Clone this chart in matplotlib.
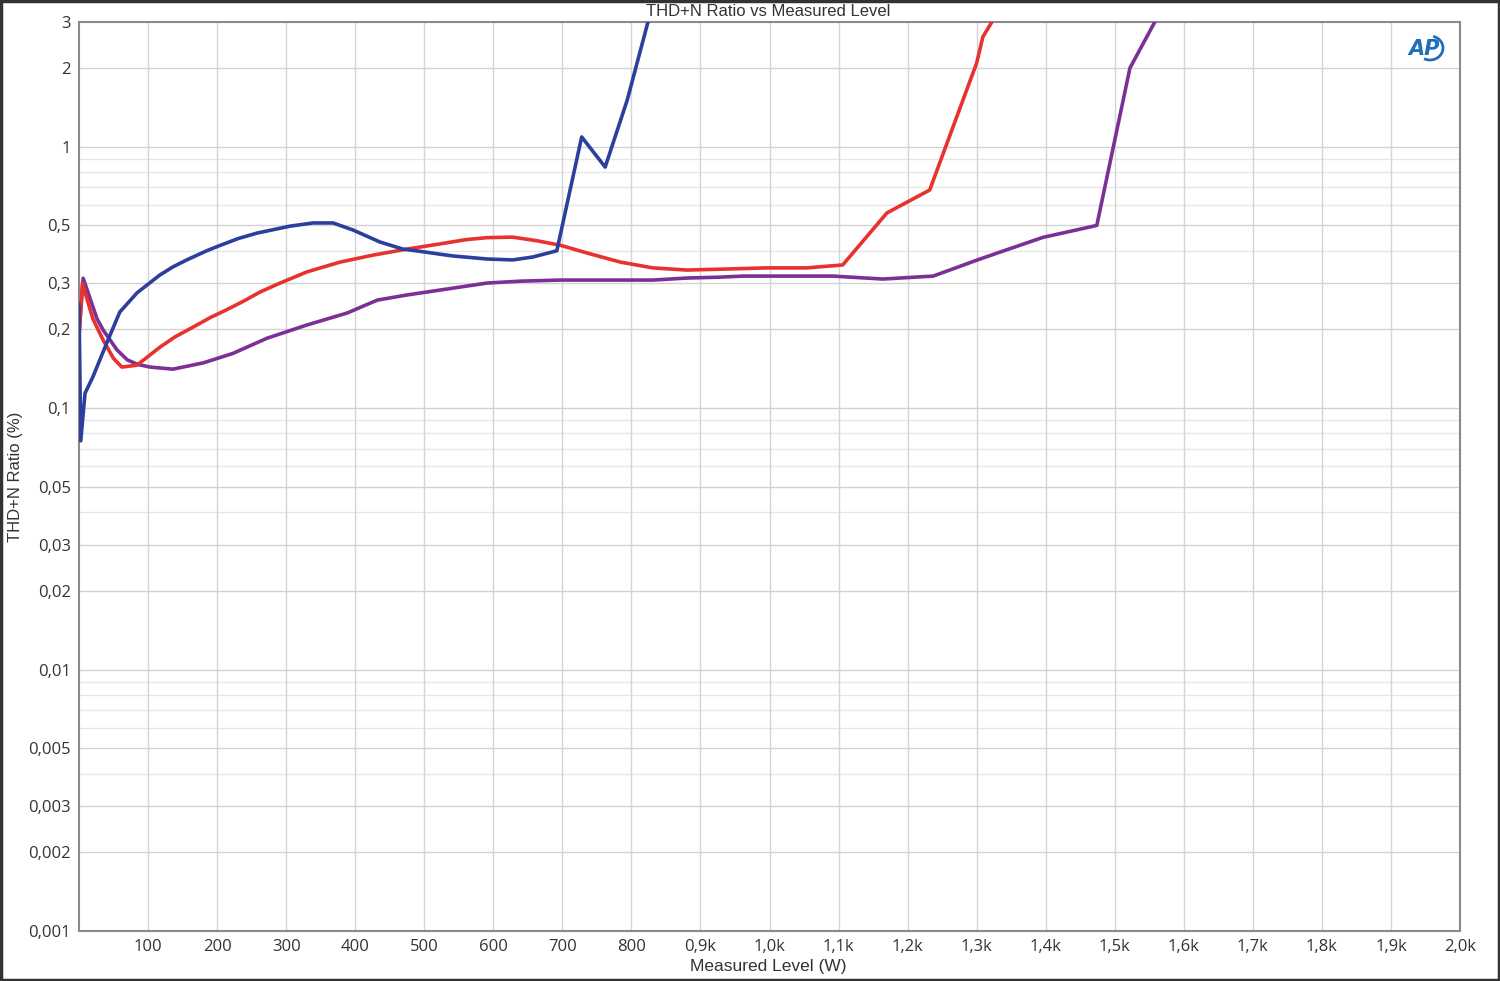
import matplotlib
matplotlib.use("Agg")
import matplotlib.pyplot as plt
import numpy as np
from matplotlib.patches import Rectangle, Arc
from matplotlib.ticker import FixedLocator, NullFormatter, NullLocator

# ---- data (W, THD+N %) ----
blue_x = [0, 2.5, 8.7, 20, 40, 59, 84, 117, 136, 156, 185, 200, 230, 258, 306, 339, 368, 397, 436, 469, 494, 523, 542, 591, 628, 657, 692, 728, 762, 794, 824]
blue_y = [0.25, 0.075, 0.114, 0.1315, 0.177, 0.233, 0.276, 0.323, 0.347, 0.369, 0.40, 0.415, 0.445, 0.4675, 0.497, 0.511, 0.511, 0.48, 0.432, 0.406, 0.398, 0.388, 0.382, 0.372, 0.369, 0.3785, 0.40, 1.09, 0.836, 1.51, 3.0]

red_x = [0, 5, 20, 35, 50, 62, 84, 117, 140, 165, 190, 214, 240, 262, 290, 330, 378, 426, 475, 523, 560, 591, 628, 663, 697, 736, 784, 831, 880, 928, 996, 1054, 1106, 1170, 1232, 1300, 1309, 1322]
red_y = [0.19, 0.30, 0.22, 0.182, 0.155, 0.1436, 0.146, 0.171, 0.188, 0.204, 0.222, 0.238, 0.258, 0.278, 0.300, 0.332, 0.362, 0.385, 0.406, 0.425, 0.441, 0.449, 0.451, 0.437, 0.42, 0.392, 0.362, 0.344, 0.3375, 0.34, 0.344, 0.344, 0.353, 0.558, 0.683, 2.09, 2.63, 3.0]

purple_x = [0, 6, 26, 35, 55, 70, 85, 103, 136, 180, 223, 272, 330, 388, 432, 475, 523, 591, 639, 697, 784, 831, 880, 928, 962, 1092, 1164, 1237, 1300, 1334, 1396, 1474, 1522, 1558]
purple_y = [0.19, 0.314, 0.22, 0.199, 0.167, 0.153, 0.147, 0.1436, 0.141, 0.149, 0.162, 0.185, 0.208, 0.231, 0.259, 0.271, 0.283, 0.301, 0.306, 0.309, 0.309, 0.309, 0.3145, 0.317, 0.32, 0.32, 0.3118, 0.32, 0.368, 0.3955, 0.45, 0.50, 2.0, 3.0]

x_ticks = [100, 200, 300, 400, 500, 600, 700, 800, 900, 1000, 1100, 1200, 1300, 1400, 1500, 1600, 1700, 1800, 1900, 2000]
x_labels = ["100", "200", "300", "400", "500", "600", "700", "800", "0,9k", "1,0k", "1,1k", "1,2k", "1,3k", "1,4k", "1,5k", "1,6k", "1,7k", "1,8k", "1,9k", "2,0k"]
y_ticks = [3, 2, 1, 0.5, 0.3, 0.2, 0.1, 0.05, 0.03, 0.02, 0.01, 0.005, 0.003, 0.002, 0.001]
y_labels = ["3", "2", "1", "0,5", "0,3", "0,2", "0,1", "0,05", "0,03", "0,02", "0,01", "0,005", "0,003", "0,002", "0,001"]

W, H = 1500, 981
fig = plt.figure(figsize=(W / 100, H / 100), dpi=100)
fig.patch.set_facecolor("white")
ax = fig.add_axes([79 / W, 1 - 931 / H, (1460 - 79) / W, (931 - 22) / H])

ax.set_yscale("log")
ax.set_xlim(0, 2000)
ax.set_ylim(0.001, 3)

# grid
minor_vals = []
for dec in [0.001, 0.01, 0.1, 1]:
    for m in range(1, 10):
        v = dec * m
        if 0.001 < v < 3:
            minor_vals.append(v)
for v in minor_vals:
    strong = any(abs(v - t) / t < 1e-6 for t in y_ticks)
    ax.axhline(v, color="#d2d2d2" if strong else "#e6e6e6", lw=1.0, zorder=0)
for xv in x_ticks[:-1]:
    ax.axvline(xv, color="#d4d4d4", lw=1.0, zorder=0)

ax.plot(purple_x, purple_y, color="#7d2f98", lw=2.6, zorder=3, solid_joinstyle="round", solid_capstyle="round")
ax.plot(red_x, red_y, color="#e8322f", lw=2.6, zorder=4, solid_joinstyle="round", solid_capstyle="round")
ax.plot(blue_x, blue_y, color="#2c3f9c", lw=2.6, zorder=5, solid_joinstyle="round", solid_capstyle="round")

tick_font = dict(family=["Open Sans", "DejaVu Sans"], size=12)
ax.yaxis.set_major_locator(FixedLocator(y_ticks))
ax.yaxis.set_minor_locator(NullLocator())
ax.yaxis.set_minor_formatter(NullFormatter())
ax.set_yticks(y_ticks)
ax.set_yticklabels(y_labels, **tick_font, color="#333333")
ax.set_xticks(x_ticks)
ax.set_xticklabels(x_labels, **tick_font, color="#333333")
ax.tick_params(axis="both", which="both", length=0)
ax.tick_params(axis="y", pad=6)
ax.tick_params(axis="x", pad=6)

for s in ax.spines.values():
    s.set_color("#8a8a8a")
    s.set_linewidth(1.5)

lab_font = dict(family=["Liberation Sans Narrow", "Liberation Sans", "DejaVu Sans"], color="#333333")
fig.text(768 / W, 1 - 11 / H, "THD+N Ratio vs Measured Level", ha="center", va="center", size=12, **lab_font)
fig.text(768 / W, 1 - 966 / H, "Measured Level (W)", ha="center", va="center", size=12.5, **lab_font)
fig.text(16 / W, 1 - 477 / H, "THD+N Ratio (%)", ha="center", va="center", rotation=90, size=12, **lab_font)

# AP logo
fig.text(1424 / W, 1 - 49 / H, "AP", ha="center", va="center", size=15, fontweight="bold",
         fontstyle="italic", color="#1f6fb8", family=["DejaVu Sans"])
fig.patches.append(Arc((1430 / W, 1 - 48 / H), 26 / W, 24 / H, theta1=-110, theta2=80,
                       transform=fig.transFigure, color="#1f6fb8", lw=2))

# outer border
fig.patches.append(Rectangle((0.0007, 0.001), 0.9986, 0.998, transform=fig.transFigure,
                             fill=False, edgecolor="#333333", lw=2.5))

fig.savefig("out.png", dpi=100, facecolor="white")
